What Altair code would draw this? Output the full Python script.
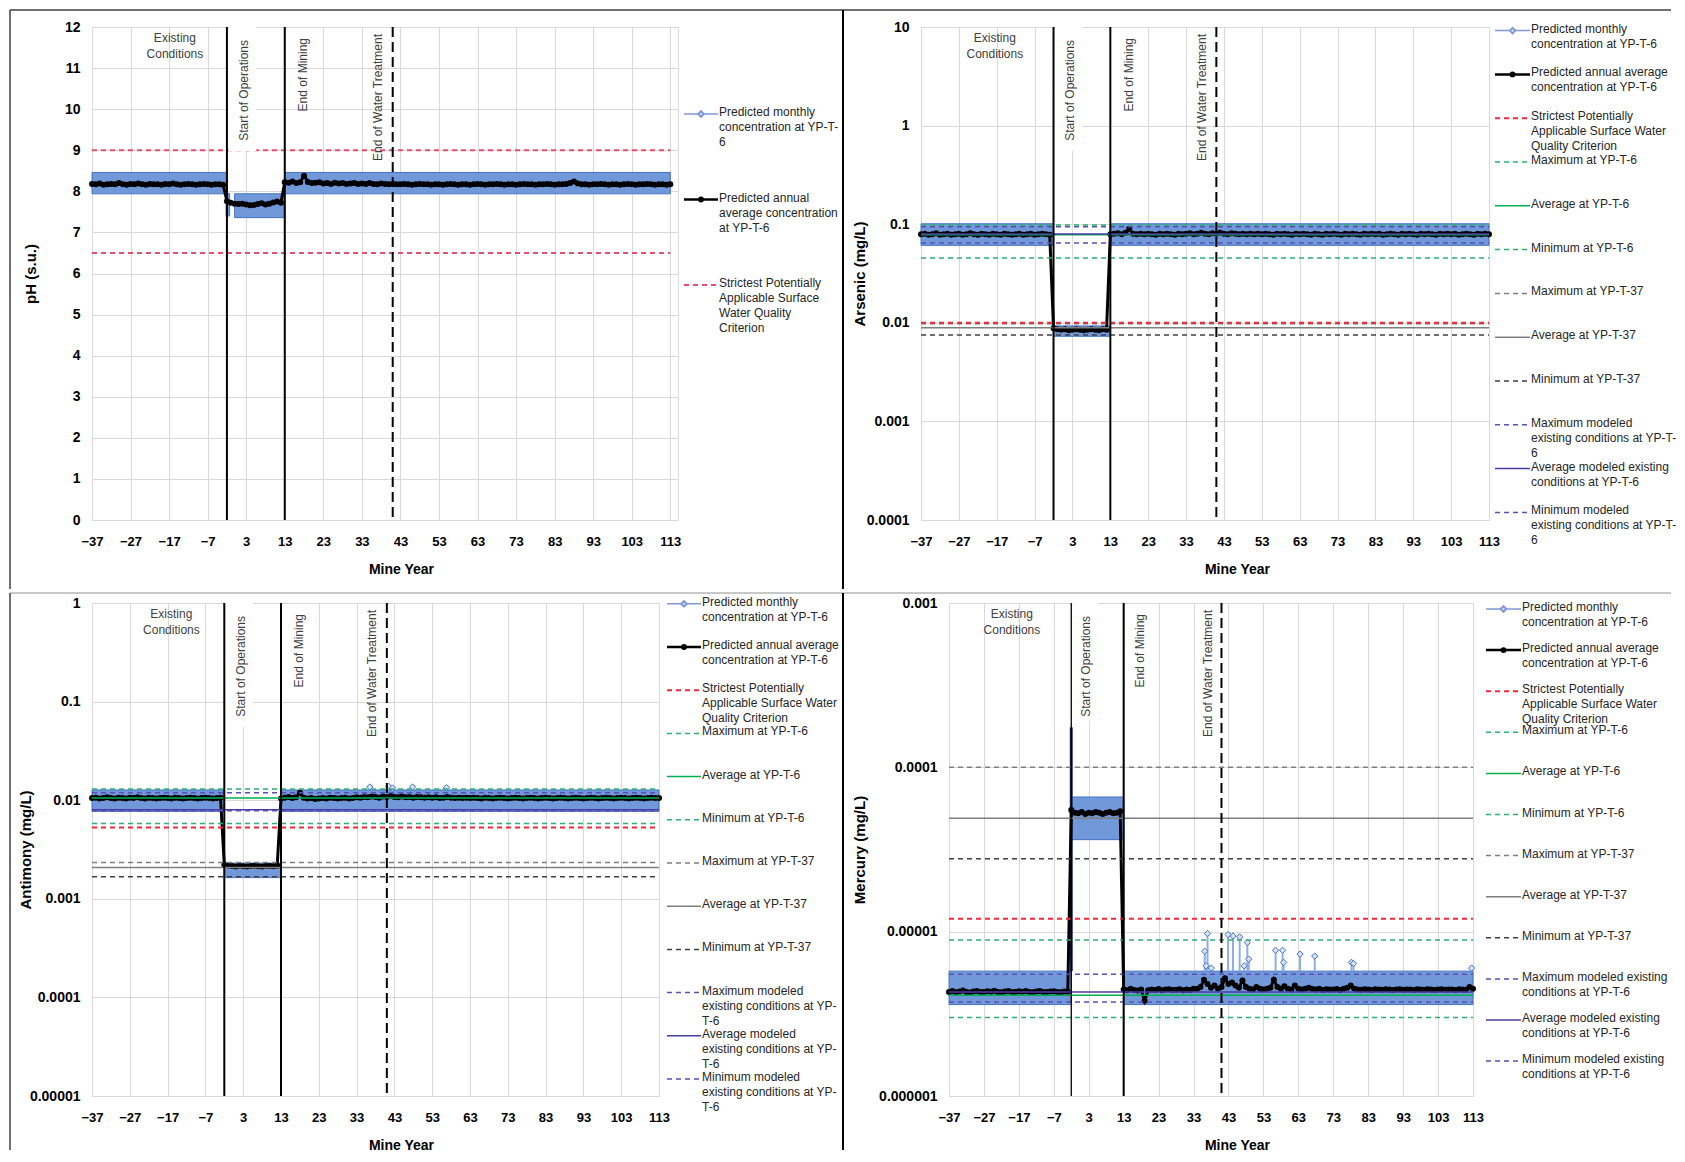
import altair as alt
import pandas as pd

FONT = "Liberation Sans"
GRID = "#D9D9D9"
TEXT = "#404040"
BAND_FILL = "#7199DA"
BAND_STROKE = "#4472C4"
H_ALL = 493

YEAR_TICKS = [-37, -27, -17, -7, 3, 13, 23, 33, 43, 53, 63, 73, 83, 93, 103, 113]
EXIST_YEARS = list(range(-37, -2))   # 35 years
OPS_YEARS = list(range(-2, 13))      # 15 years
POST_YEARS = list(range(13, 114))    # 101 years
EVENT_YEARS = [-2, 13, 41]
EVENT_DASHED = [False, False, True]
EVENT_LABELS = ["Start of Operations", "End of Mining", "End of Water Treatment"]
EVENT_LABEL_X = [2.3, 17.8, 37.2]
EVENT_LABEL_TOP = [13, 11, 7]
REF_X0, REF_X1 = -37, 113

STYLE = {
    "monthly": ("#7F98D8", None, 1.5),
    "annual": ("#000000", None, 2.5),
    "crit": ("#F0283C", [5, 4], 2),
    "max6": ("#2DB070", [5, 4], 1.5),
    "avg6": ("#00B050", None, 1.5),
    "min6": ("#2DB070", [5, 4], 1.5),
    "max37": ("#7F7F7F", [5, 4], 1.5),
    "avg37": ("#7F7F7F", None, 1.5),
    "min37": ("#404040", [5, 4], 1.5),
    "maxmod": ("#5A4FB4", [5, 4], 1.5),
    "avgmod": ("#4A3DA6", None, 1.5),
    "minmod": ("#5A4FB4", [5, 4], 1.5),
}
LEG_KEYS = ["monthly", "annual", "crit", "max6", "avg6", "min6",
            "max37", "avg37", "min37", "maxmod", "avgmod", "minmod"]
LEG_COMMON = ["Predicted monthly\nconcentration at YP-T-6",
              "Predicted annual average\nconcentration at YP-T-6",
              "Strictest Potentially\nApplicable Surface Water\nQuality Criterion",
              "Maximum at YP-T-6", "Average at YP-T-6", "Minimum at YP-T-6",
              "Maximum at YP-T-37", "Average at YP-T-37", "Minimum at YP-T-37"]

# ---------------- pH ----------------
PH_EXIST = [8.18, 8.17, 8.19, 8.16, 8.17, 8.18, 8.17, 8.20, 8.17, 8.16,
            8.18, 8.17, 8.19, 8.17, 8.16, 8.18, 8.17, 8.17, 8.16, 8.18,
            8.17, 8.19, 8.17, 8.16, 8.17, 8.18, 8.17, 8.16, 8.17, 8.18,
            8.17, 8.16, 8.17, 8.17, 8.16]
PH_OPS = [7.76, 7.72, 7.70, 7.69, 7.70, 7.68, 7.66, 7.67, 7.69, 7.71,
          7.68, 7.70, 7.73, 7.75, 7.72]
PH_POST = [8.22, 8.21, 8.24, 8.20, 8.22, 8.38, 8.23, 8.20, 8.21, 8.22,
           8.19, 8.20, 8.18, 8.21, 8.19, 8.20, 8.18, 8.19, 8.20, 8.18,
           8.19, 8.18, 8.20, 8.18, 8.17, 8.19, 8.18, 8.17, 8.18, 8.17,
           8.17, 8.18, 8.17, 8.16, 8.17, 8.18, 8.17, 8.17, 8.16, 8.17,
           8.17, 8.16, 8.17, 8.18, 8.17, 8.16, 8.17, 8.17, 8.16, 8.17,
           8.18, 8.17, 8.16, 8.17, 8.17, 8.18, 8.17, 8.16, 8.17, 8.17,
           8.16, 8.17, 8.18, 8.17, 8.17, 8.16, 8.17, 8.17, 8.18, 8.17,
           8.16, 8.17, 8.17, 8.18, 8.20, 8.24, 8.19, 8.17, 8.17, 8.16,
           8.17, 8.17, 8.18, 8.17, 8.16, 8.17, 8.17, 8.16, 8.17, 8.18,
           8.17, 8.16, 8.17, 8.17, 8.18, 8.17, 8.16, 8.17, 8.17, 8.16, 8.17]
PH_BANDS = [(-37, -2, 7.94, 8.46), (-2.2, -1.3, 7.40, 7.95), (0, 13, 7.36, 7.94), (13, 113, 7.94, 8.46)]
PH_REFS = [("crit", 9.0), ("crit", 6.5)]

# ---------------- Arsenic ----------------
AS_EXIST = [0.079, 0.080, 0.078, 0.079, 0.081, 0.078, 0.079, 0.080, 0.078, 0.079,
            0.080, 0.078, 0.079, 0.081, 0.079, 0.078, 0.080, 0.079, 0.078, 0.080,
            0.079, 0.078, 0.080, 0.079, 0.078, 0.079, 0.080, 0.078, 0.079, 0.080,
            0.078, 0.079, 0.080, 0.079, 0.078]
AS_OPS = [0.0088, 0.0086, 0.0085, 0.0086, 0.0084, 0.0085, 0.0086, 0.0085, 0.0084, 0.0085,
          0.0086, 0.0085, 0.0084, 0.0086, 0.0085]
AS_POST = [0.079, 0.080, 0.081, 0.079, 0.082, 0.090, 0.080, 0.079, 0.080, 0.079,
           0.080, 0.079, 0.078, 0.080, 0.079, 0.080, 0.079, 0.078, 0.080, 0.079,
           0.080, 0.081, 0.079, 0.080, 0.082, 0.080, 0.079, 0.081, 0.080, 0.082,
           0.080, 0.079, 0.081, 0.080, 0.079, 0.080, 0.079, 0.080, 0.079, 0.080,
           0.079, 0.080, 0.079, 0.078, 0.080, 0.079, 0.080, 0.079, 0.078, 0.080,
           0.079, 0.080, 0.079, 0.078, 0.080, 0.079, 0.078, 0.080, 0.079, 0.080,
           0.079, 0.078, 0.080, 0.079, 0.080, 0.079, 0.078, 0.080, 0.079, 0.080,
           0.079, 0.080, 0.078, 0.079, 0.080, 0.079, 0.078, 0.080, 0.079, 0.080,
           0.079, 0.078, 0.080, 0.079, 0.080, 0.079, 0.078, 0.080, 0.079, 0.080,
           0.079, 0.080, 0.078, 0.079, 0.080, 0.079, 0.078, 0.080, 0.079, 0.080, 0.079]
AS_BANDS = [(-37, -2, 0.061, 0.101), (-2, 13, 0.0073, 0.0093), (13, 113, 0.061, 0.101)]
AS_REFS = [("max37", 0.0098), ("crit", 0.0100), ("max6", 0.098), ("avg6", 0.078), ("min6", 0.0455),
           ("avg37", 0.0089), ("min37", 0.0075), ("maxmod", 0.094), ("avgmod", 0.0797), ("minmod", 0.0645)]

# ---------------- Antimony ----------------
SB_EXIST = [0.0105, 0.0106, 0.0104, 0.0105, 0.0107, 0.0105, 0.0104, 0.0106, 0.0105, 0.0104,
            0.0106, 0.0105, 0.0107, 0.0105, 0.0104, 0.0106, 0.0105, 0.0104, 0.0105, 0.0106,
            0.0105, 0.0104, 0.0106, 0.0105, 0.0104, 0.0105, 0.0106, 0.0105, 0.0104, 0.0105,
            0.0106, 0.0105, 0.0104, 0.0105, 0.0106]
SB_OPS = [0.00222, 0.00218, 0.00215, 0.00213, 0.00216, 0.00214, 0.00212, 0.00215, 0.00217, 0.00214,
          0.00213, 0.00216, 0.00215, 0.00214, 0.00216]
SB_POST = [0.0104, 0.0106, 0.0108, 0.0105, 0.0107, 0.0119, 0.0106, 0.0104, 0.0105, 0.0103,
           0.0104, 0.0105, 0.0104, 0.0106, 0.0105, 0.0104, 0.0105, 0.0106, 0.0104, 0.0105,
           0.0107, 0.0106, 0.0108, 0.0107, 0.0109, 0.0108, 0.0106, 0.0109, 0.0108, 0.0110,
           0.0108, 0.0107, 0.0109, 0.0107, 0.0108, 0.0106, 0.0108, 0.0107, 0.0106, 0.0107,
           0.0106, 0.0107, 0.0105, 0.0106, 0.0108, 0.0106, 0.0105, 0.0106, 0.0105, 0.0106,
           0.0105, 0.0106, 0.0105, 0.0104, 0.0106, 0.0105, 0.0104, 0.0105, 0.0106, 0.0105,
           0.0104, 0.0105, 0.0106, 0.0105, 0.0104, 0.0105, 0.0106, 0.0105, 0.0104, 0.0105,
           0.0106, 0.0105, 0.0104, 0.0105, 0.0106, 0.0105, 0.0104, 0.0105, 0.0106, 0.0105,
           0.0104, 0.0105, 0.0106, 0.0105, 0.0104, 0.0105, 0.0106, 0.0105, 0.0104, 0.0105,
           0.0106, 0.0105, 0.0104, 0.0105, 0.0106, 0.0105, 0.0104, 0.0105, 0.0106, 0.0105, 0.0105]
SB_BANDS = [(-37, -2, 0.0077, 0.0127), (-2, 13, 0.00164, 0.0023), (13, 113, 0.0077, 0.0127)]
SB_SPIKE_YEARS = [36.5, 41.5, 42.5, 47.8, 56.8]
SB_SPIKE_VALS = [0.0136, 0.0138, 0.0133, 0.0136, 0.0134]
SB_REFS = [("max37", 0.00233), ("avg37", 0.00208), ("min37", 0.00167), ("crit", 0.0053),
           ("max6", 0.0130), ("avg6", 0.0105), ("min6", 0.0058),
           ("maxmod", 0.0119), ("avgmod", 0.0080), ("minmod", 0.0078)]

# ---------------- Mercury ----------------
HG_EXIST = [4.30e-6, 4.35e-6, 4.28e-6, 4.32e-6, 4.38e-6, 4.30e-6, 4.27e-6, 4.33e-6, 4.36e-6, 4.30e-6,
            4.29e-6, 4.34e-6, 4.31e-6, 4.37e-6, 4.30e-6, 4.28e-6, 4.33e-6, 4.35e-6, 4.30e-6, 4.29e-6,
            4.34e-6, 4.31e-6, 4.36e-6, 4.30e-6, 4.28e-6, 4.33e-6, 4.35e-6, 4.30e-6, 4.29e-6, 4.32e-6,
            4.34e-6, 4.30e-6, 4.28e-6, 4.33e-6, 4.31e-6]
HG_OPS = [5.5e-5, 5.3e-5, 5.25e-5, 5.35e-5, 5.2e-5, 5.3e-5, 5.25e-5, 5.35e-5, 5.3e-5, 5.2e-5,
          5.3e-5, 5.35e-5, 5.25e-5, 5.3e-5, 5.4e-5]
HG_POST = [4.45e-6, 4.40e-6, 4.50e-6, 4.42e-6, 4.38e-6, 4.45e-6, 3.80e-6, 4.40e-6, 4.45e-6, 4.42e-6,
           4.48e-6, 4.40e-6, 4.44e-6, 4.46e-6, 4.41e-6, 4.43e-6, 4.47e-6, 4.40e-6, 4.45e-6, 4.42e-6,
           4.50e-6, 4.48e-6, 4.60e-6, 5.10e-6, 4.80e-6, 4.55e-6, 4.70e-6, 4.50e-6, 4.60e-6, 5.20e-6,
           4.80e-6, 4.90e-6, 4.70e-6, 4.55e-6, 5.05e-6, 4.60e-6, 4.50e-6, 4.45e-6, 4.60e-6, 4.50e-6,
           4.45e-6, 4.50e-6, 4.55e-6, 5.10e-6, 4.60e-6, 4.50e-6, 4.65e-6, 4.50e-6, 4.45e-6, 4.70e-6,
           4.50e-6, 4.45e-6, 4.50e-6, 4.55e-6, 4.48e-6, 4.45e-6, 4.50e-6, 4.42e-6, 4.46e-6, 4.44e-6,
           4.45e-6, 4.48e-6, 4.42e-6, 4.50e-6, 4.55e-6, 4.70e-6, 4.50e-6, 4.45e-6, 4.43e-6, 4.46e-6,
           4.44e-6, 4.42e-6, 4.46e-6, 4.45e-6, 4.43e-6, 4.47e-6, 4.44e-6, 4.42e-6, 4.45e-6, 4.46e-6,
           4.43e-6, 4.45e-6, 4.44e-6, 4.42e-6, 4.46e-6, 4.45e-6, 4.43e-6, 4.47e-6, 4.44e-6, 4.42e-6,
           4.45e-6, 4.46e-6, 4.43e-6, 4.45e-6, 4.44e-6, 4.42e-6, 4.46e-6, 4.45e-6, 4.43e-6, 4.60e-6, 4.50e-6]
HG_BANDS = [(-37, -2, 3.6e-6, 5.75e-6), (-2, 13, 3.63e-5, 6.6e-5), (13, 113, 3.6e-6, 5.75e-6)]
HG_SPIKE_YEARS = [36.2, 36.6, 37.0, 38.1, 42.9, 44.3, 46.2, 47.5, 48.4, 48.8,
                  56.5, 58.5, 58.8, 63.5, 67.7, 78.2, 78.8, 112.6]
HG_SPIKE_VALS = [7.6e-6, 6.2e-6, 9.75e-6, 6.0e-6, 9.6e-6, 9.4e-6, 9.3e-6, 6.2e-6, 8.6e-6, 6.8e-6,
                 7.7e-6, 7.7e-6, 6.5e-6, 7.3e-6, 7.1e-6, 6.5e-6, 6.4e-6, 6.0e-6]
HG_JUMP = (-2, 5.75e-6, 1.75e-4)
HG_REFS = [("max37", 1.0e-4), ("avg37", 4.9e-5), ("min37", 2.78e-5), ("crit", 1.2e-5),
           ("max6", 8.9e-6), ("avg6", 4.1e-6), ("min6", 3.0e-6),
           ("maxmod", 5.5e-6), ("avgmod", 4.3e-6), ("minmod", 3.73e-6)]

ONE = pd.DataFrame({"a": [0]})


def seg(x, y, x2, y2, color, width):
    return alt.Chart(ONE).mark_rule(color=color, strokeWidth=width).encode(
        x=alt.value(x), y=alt.value(y), x2=alt.value(x2), y2=alt.value(y2))


def build_panel(p):
    W, H = p["W"], H_ALL
    xs = alt.Scale(domain=[-37, p["xmax"]], nice=False, zero=False)
    if p["log"]:
        ys = alt.Scale(type="log", domain=p["ydom"], nice=False)
    else:
        ys = alt.Scale(domain=p["ydom"], nice=False, zero=False)
    xaxis = alt.Axis(values=YEAR_TICKS, grid=True, gridColor=GRID, ticks=False, domainColor=GRID,
                     labelFont=FONT, labelFontSize=13, labelFontWeight="bold", labelColor="black",
                     labelPadding=15, labelOverlap=False, labelFlush=False,
                     title="Mine Year", titleFont=FONT, titleFontSize=14,
                     titleFontWeight="bold", titleColor="black", titleX=p["xtitle_x"], titleY=49,
                     titleBaseline="middle", titleAlign="center")
    yaxis = alt.Axis(values=p["yticks"], grid=True, gridColor=GRID, ticks=False, domainColor=GRID,
                     labelFont=FONT, labelFontSize=14, labelFontWeight="bold", labelColor="black",
                     labelPadding=12, labelOverlap=False, labelFlush=False, format="~f",
                     title=p["ytitle"], titleFont=FONT, titleFontSize=15,
                     titleFontWeight="bold", titleColor="black", titleX=p["ytitle_x"], titleY=H / 2,
                     titleAngle=270, titleBaseline="middle", titleAlign="center")

    def X(f):
        return alt.X(f, type="quantitative", scale=xs, axis=xaxis)

    def Y(f):
        return alt.Y(f, type="quantitative", scale=ys, axis=yaxis)

    layers = []
    for b in p.get("borders", []):
        layers.append(seg(*b))

    band = pd.DataFrame(p["bands"], columns=["x0", "x1", "lo", "hi"])
    layers.append(alt.Chart(band).mark_rect(fill=BAND_FILL, stroke=BAND_STROKE, strokeWidth=1).encode(
        x=X("x0"), x2="x1", y=Y("lo"), y2="hi"))

    if p.get("jump"):
        jx, jlo, jhi = p["jump"]
        jd = pd.DataFrame({"x": [jx], "lo": [jlo], "hi": [jhi]})
        layers.append(alt.Chart(jd).mark_rule(color="#1F2F60", strokeWidth=3).encode(
            x=X("x"), y=Y("lo"), y2="hi"))

    if p.get("spike_years"):
        sp = pd.DataFrame({"x": p["spike_years"], "v": p["spike_vals"]})
        sp["base"] = p["spike_base"]
        layers.append(alt.Chart(sp).mark_rule(color="#8FAEE3", strokeWidth=2).encode(
            x=X("x"), y=Y("base"), y2="v"))
        layers.append(alt.Chart(sp).mark_point(shape="diamond", filled=True, fill="#D6E2F5",
                                               stroke="#4472C4", strokeWidth=1, size=40, opacity=1).encode(
            x=X("x"), y=Y("v")))

    ann = pd.DataFrame({"x": EXIST_YEARS + OPS_YEARS + POST_YEARS,
                        "v": p["exist"] + p["ops"] + p["post"]})
    layers.append(alt.Chart(ann).mark_line(color="black", strokeWidth=3).encode(x=X("x"), y=Y("v")))
    layers.append(alt.Chart(ann).mark_circle(color="black", size=36, opacity=1).encode(x=X("x"), y=Y("v")))

    for key, val in p["refs"]:
        col, dash, w = STYLE[key]
        if key == "crit" and p.get("crit_color"):
            col = p["crit_color"]
        df = pd.DataFrame({"x0": [REF_X0], "x1": [REF_X1], "v": [val]})
        kw = {"strokeDash": dash} if dash else {}
        layers.append(alt.Chart(df).mark_rule(color=col, strokeWidth=w, **kw).encode(
            x=X("x0"), x2="x1", y=Y("v")))

    box = pd.DataFrame({"x0": [-1.6], "x1": [5.6]})
    layers.append(alt.Chart(box).mark_rect(fill="white").encode(
        x=X("x0"), x2="x1", y=alt.value(0), y2=alt.value(p["box_h"])))

    for yr, dashed, w in zip(EVENT_YEARS, EVENT_DASHED, p["event_w"]):
        df = pd.DataFrame({"x": [yr]})
        kw = {"strokeDash": [10, 5]} if dashed else {}
        layers.append(alt.Chart(df).mark_rule(color="black", strokeWidth=w, **kw).encode(x=X("x")))

    for lab, lx, top in zip(EVENT_LABELS, EVENT_LABEL_X, EVENT_LABEL_TOP):
        df = pd.DataFrame({"x": [lx], "t": [lab]})
        layers.append(alt.Chart(df).mark_text(angle=270, align="right", baseline="middle", fontSize=12,
                                              font=FONT, color=TEXT).encode(
            x=X("x"), y=alt.value(top), text="t:N"))

    ex = pd.DataFrame({"x": [p["exist_x"]], "t": ["Existing\nConditions"]})
    layers.append(alt.Chart(ex).mark_text(align="center", baseline="top", lineBreak="\n", fontSize=12,
                                          lineHeight=16, font=FONT, color=TEXT).encode(
        x=X("x"), y=alt.value(6), text="t:N"))

    # legend (own vertical scale: item index)
    step, y0 = p["leg_step"], p["leg_y0"]
    ls = alt.Scale(domain=[-y0 / step, (H - y0) / step], reverse=True, nice=False, zero=False)
    LY = alt.Y("idx", type="quantitative", scale=ls, axis=None)
    sx0, sx1, tx = p["leg_x"]
    leg_layers = []
    for i, key in enumerate(p["leg_keys"]):
        col, dash, w = STYLE[key]
        if key == "crit" and p.get("crit_color"):
            col = p["crit_color"]
        df = pd.DataFrame({"idx": [i]})
        kw = {"strokeDash": dash} if dash else {}
        leg_layers.append(alt.Chart(df).mark_rule(color=col, strokeWidth=w, **kw).encode(
            x=alt.value(sx0), x2=alt.value(sx1), y=LY))
        if key == "monthly":
            leg_layers.append(alt.Chart(df).mark_point(shape="diamond", filled=True, fill="#E4ECF8",
                                                       stroke="#7F98D8", size=30, opacity=1).encode(
                x=alt.value((sx0 + sx1) / 2), y=LY))
        if key == "annual":
            leg_layers.append(alt.Chart(df).mark_circle(color="black", size=34, opacity=1).encode(
                x=alt.value((sx0 + sx1) / 2), y=LY))
    ld = pd.DataFrame({"idx": list(range(len(p["leg_labels"]))), "label": p["leg_labels"]})
    leg_layers.append(alt.Chart(ld).mark_text(align="left", baseline="top", dy=-7, lineBreak="\n",
                                              fontSize=12, lineHeight=15, font=FONT,
                                              color="#262626").encode(
        x=alt.value(tx), y=LY, text="label:N"))

    return alt.layer(alt.layer(*layers), alt.layer(*leg_layers)).resolve_scale(
        y="independent").properties(width=W, height=H)


P1 = dict(W=586, xmax=115, log=False, ydom=[0, 12], yticks=list(range(0, 13)), ytitle="pH (s.u.)",
          ytitle_x=-61.5, xtitle_x=309, bands=PH_BANDS, exist=PH_EXIST, ops=PH_OPS, post=PH_POST,
          refs=PH_REFS, crit_color="#E6506E", box_h=124, event_w=[2, 2, 2], exist_x=-15.5,
          leg_keys=["monthly", "annual", "crit"],
          leg_labels=["Predicted monthly\nconcentration at YP-T-\n6",
                      "Predicted annual\naverage concentration\nat YP-T-6",
                      "Strictest Potentially\nApplicable Surface\nWater Quality\nCriterion"],
          leg_y0=87, leg_step=85.5, leg_x=(592, 626, 627),
          borders=[(-82, -17, -82, 562, "#404040", 1.5), (-82, -17, 1579, -17, "#404040", 1.5),
                   (751, -17, 751, 562, "#000000", 2)])
P2 = dict(W=568, xmax=113, log=True, ydom=[1e-4, 10], yticks=[1e-4, 1e-3, 1e-2, 1e-1, 1, 10],
          ytitle="Arsenic (mg/L)", ytitle_x=-62, xtitle_x=316, bands=AS_BANDS, exist=AS_EXIST,
          ops=AS_OPS, post=AS_POST, refs=AS_REFS, box_h=124, event_w=[2, 2, 2], exist_x=-17.5,
          leg_keys=LEG_KEYS,
          leg_labels=LEG_COMMON + ["Maximum modeled\nexisting conditions at YP-T-\n6",
                                   "Average modeled existing\nconditions at YP-T-6",
                                   "Minimum modeled\nexisting conditions at YP-T-\n6"],
          leg_y0=3.6, leg_step=43.8, leg_x=(574, 609, 610))
P3 = dict(W=567, xmax=113, log=True, ydom=[1e-5, 1], yticks=[1e-5, 1e-4, 1e-3, 1e-2, 1e-1, 1],
          ytitle="Antimony (mg/L)", ytitle_x=-67, xtitle_x=309, bands=SB_BANDS, exist=SB_EXIST,
          ops=SB_OPS, post=SB_POST, refs=SB_REFS, spike_years=SB_SPIKE_YEARS, spike_vals=SB_SPIKE_VALS,
          spike_base=0.0127, box_h=124, event_w=[2, 2, 2], exist_x=-16,
          leg_keys=LEG_KEYS,
          leg_labels=LEG_COMMON + ["Maximum modeled\nexisting conditions at YP-\nT-6",
                                   "Average modeled\nexisting conditions at YP-\nT-6",
                                   "Minimum modeled\nexisting conditions at YP-\nT-6"],
          leg_y0=0.8, leg_step=43.2, leg_x=(575, 609, 610),
          borders=[(-82, -10, 1579, -10, "#C8C8C8", 2), (-82, -10, -82, 547, "#404040", 1.5),
                   (751, -10, 751, 547, "#000000", 2)])
P4 = dict(W=524, xmax=113, log=True, ydom=[1e-6, 1e-3], yticks=[1e-6, 1e-5, 1e-4, 1e-3],
          ytitle="Mercury (mg/L)", ytitle_x=-90, xtitle_x=288, bands=HG_BANDS, exist=HG_EXIST,
          ops=HG_OPS, post=HG_POST, refs=HG_REFS, spike_years=HG_SPIKE_YEARS, spike_vals=HG_SPIKE_VALS,
          spike_base=5.75e-6, jump=HG_JUMP, box_h=118, event_w=[1.3, 2, 2], exist_x=-19,
          leg_keys=LEG_KEYS,
          leg_labels=LEG_COMMON + ["Maximum modeled existing\nconditions at YP-T-6",
                                   "Average modeled existing\nconditions at YP-T-6",
                                   "Minimum modeled existing\nconditions at YP-T-6"],
          leg_y0=6, leg_step=41.1, leg_x=(537, 572, 573))

row1 = alt.hconcat(build_panel(P1), build_panel(P2), spacing=243, bounds="flush")
row2 = alt.hconcat(build_panel(P3), build_panel(P4), spacing=290, bounds="flush")
chart = alt.vconcat(row1, row2, spacing=0).properties(padding=0).configure_view(
    stroke=GRID).configure(font=FONT)

chart.save("out.html", embed_options={"renderer": "svg", "actions": False})
